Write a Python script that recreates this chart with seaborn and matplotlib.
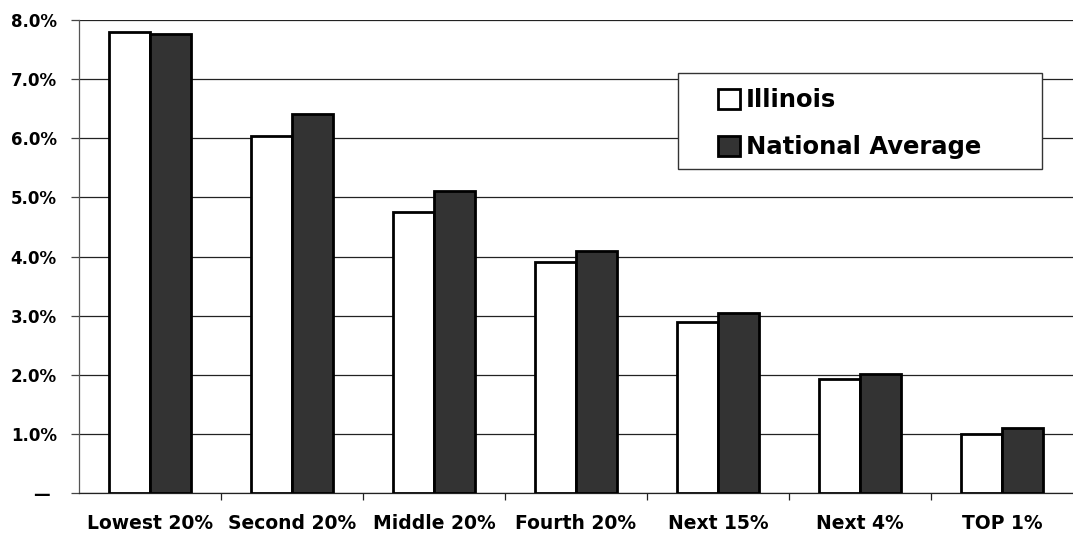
import matplotlib
matplotlib.use('Agg')
import matplotlib.pyplot as plt
from matplotlib.patches import Rectangle
import pandas as pd
import seaborn as sns

# Values (percent)
groups = ['Lowest 20%', 'Second 20%', 'Middle 20%', 'Fourth 20%', 'Next 15%', 'Next 4%', 'TOP 1%']
illinois = [7.80, 6.04, 4.75, 3.91, 2.89, 1.93, 1.00]
national = [7.77, 6.41, 5.10, 4.09, 3.05, 2.02, 1.10]
series = ['Illinois', 'National Average']
y_ticks = [0, 1, 2, 3, 4, 5, 6, 7, 8]
y_labels = ['\u2014 ', '1.0%', '2.0%', '3.0%', '4.0%', '5.0%', '6.0%', '7.0%', '8.0%']

df = pd.DataFrame({
    'group': groups * 2,
    'series': [series[0]] * len(groups) + [series[1]] * len(groups),
    'value': illinois + national,
})

sns.set_style('white')
plt.rcParams['font.family'] = ['DejaVu Sans']
plt.rcParams['font.weight'] = 'bold'
plt.rcParams['text.color'] = 'black'

fig = plt.figure(figsize=(10.73, 5.33), dpi=100)
ax = fig.add_axes([79 / 1073, 40 / 533, 1 - 79 / 1073, 473 / 533])

sns.barplot(data=df, x='group', y='value', hue='series', order=groups,
            hue_order=series, palette=['white', '#333333'], width=0.58,
            edgecolor='black', linewidth=2, saturation=1, ax=ax, zorder=3)

ax.set_xlim(-0.5, len(groups) - 0.5)
ax.set_ylim(0, 8)
ax.set_yticks(y_ticks)
ax.set_yticklabels(y_labels, fontsize=12, fontweight='bold')
ax.yaxis.grid(True, color='#222222', linewidth=0.9, zorder=0)
ax.set_axisbelow(True)
ax.tick_params(axis='y', direction='out', length=6, width=0.9, color='#444444',
               labelcolor='black', left=True, pad=10)

ax.set_xticks(range(len(groups)))
ax.set_xticklabels(groups, fontsize=13.5, fontweight='bold')
ax.set_xticks([i + 0.5 for i in range(len(groups) - 1)], minor=True)
ax.tick_params(axis='x', which='major', length=0, pad=15, labelcolor='black')
ax.tick_params(axis='x', which='minor', direction='out', length=5, width=0.9, color='#222222', bottom=True)
ax.set_xlabel('')
ax.set_ylabel('')

for side in ['top', 'right']:
    ax.spines[side].set_visible(False)
ax.spines['left'].set_color('#555555')
ax.spines['left'].set_linewidth(0.9)
ax.spines['bottom'].set_color('#222222')
ax.spines['bottom'].set_linewidth(0.9)

# legend frame drawn separately so the padding matches the reference
frame = Rectangle((0.6026, 0.685), 0.3662, 0.203, transform=ax.transAxes,
                  facecolor='white', edgecolor='#333333', linewidth=1, zorder=4)
ax.add_patch(frame)
leg = ax.legend(loc='upper left', bbox_to_anchor=(0.643, 0.856), borderaxespad=0,
                prop={'weight': 'bold', 'size': 17.5}, frameon=False,
                handlelength=0.9, handleheight=0.9, handletextpad=0.25,
                borderpad=0, labelspacing=0.95, title=None)
for t in leg.get_texts():
    t.set_color('black')
leg.set_zorder(5)

fig.savefig('out.png', dpi=100)
